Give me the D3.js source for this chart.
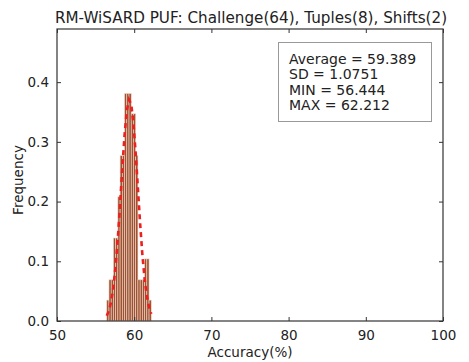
<!DOCTYPE html>
<html>
<head>
<meta charset="utf-8">
<script src="https://cdn.jsdelivr.net/npm/d3@7"></script>
<style>
  html, body { margin: 0; padding: 0; background: #fff; }
  text { font-family: "DejaVu Sans", sans-serif; fill: #222; }
</style>
</head>
<body>
<svg id="chart" width="469" height="362"></svg>
<script>
// ---- data ----
const title = "RM-WiSARD PUF: Challenge(64), Tuples(8), Shifts(2)";
const xLabel = "Accuracy(%)";
const yLabel = "Frequency";
const binEdges = [56.444, 56.732, 57.021, 57.309, 57.598, 57.886, 58.174, 58.463, 58.751, 59.040,
                  59.328, 59.616, 59.905, 60.193, 60.482, 60.770, 61.058, 61.347, 61.635, 61.924, 62.212];
const binFreq = [0.035, 0.069, 0.069, 0.139, 0.139, 0.208, 0.277, 0.277, 0.381, 0.381,
                 0.381, 0.347, 0.347, 0.277, 0.069, 0.069, 0.069, 0.104, 0.104, 0.035];
const fitCurve = [0.0087, 0.0175, 0.0328, 0.0571, 0.0927, 0.1397, 0.1959, 0.2561, 0.3112, 0.3520,
                  0.3705, 0.3629, 0.3307, 0.2806, 0.2214, 0.1626, 0.1112, 0.0707, 0.0419, 0.0230, 0.0118];
const xTicks = [50, 60, 70, 80, 90, 100];
const yTicks = [0.0, 0.1, 0.2, 0.3, 0.4];
const statsLines = ["Average = 59.389", "SD = 1.0751", "MIN = 56.444", "MAX = 62.212"];

// ---- layout ----
const svg = d3.select("#chart");
const L = 57, R = 443, T = 29, B = 321;
const x = d3.scaleLinear().domain([50, 100]).range([L, R]);
const y = d3.scaleLinear().domain([0, 0.489]).range([B, T]);

// bars
const bars = binFreq.map((f, i) => ({x0: binEdges[i], x1: binEdges[i + 1], f}));
svg.append("g").selectAll("rect").data(bars).join("rect")
  .attr("x", d => x(d.x0))
  .attr("y", d => y(d.f))
  .attr("width", d => x(d.x1) - x(d.x0))
  .attr("height", d => y(0) - y(d.f))
  .attr("fill", "#9c5232")
  .attr("stroke", "#f2d9c8")
  .attr("stroke-width", 0.6);

// fitted curve
const line = d3.line().x((d, i) => x(binEdges[i])).y(d => y(d));
svg.append("path").datum(fitCurve)
  .attr("d", line)
  .attr("fill", "none")
  .attr("stroke", "#ee1f1f")
  .attr("stroke-width", 2.6)
  .attr("stroke-dasharray", "5,4");

// frame
svg.append("rect").attr("x", L).attr("y", T).attr("width", R - L).attr("height", B - T)
  .attr("fill", "none").attr("stroke", "#333").attr("stroke-width", 1.2);

// axes with inward ticks
const fmtY = d3.format(".1f");
const axB = d3.axisBottom(x).tickValues(xTicks).tickSize(-4).tickPadding(9).tickFormat(d3.format("d"));
const axT = d3.axisTop(x).tickValues(xTicks).tickSize(-4).tickFormat("");
const axL = d3.axisLeft(y).tickValues(yTicks).tickSize(-4).tickPadding(8).tickFormat(fmtY);
const axR = d3.axisRight(y).tickValues(yTicks).tickSize(-4).tickFormat("");
function styleAxis(g) {
  g.select(".domain").remove();
  g.selectAll("line").attr("stroke", "#333");
  g.selectAll("text").attr("font-size", "13.5px").attr("fill", "#222").attr("font-family", "DejaVu Sans, sans-serif");
}
svg.append("g").attr("transform", `translate(0,${B})`).call(axB).call(styleAxis);
svg.append("g").attr("transform", `translate(0,${T})`).call(axT).call(styleAxis);
svg.append("g").attr("transform", `translate(${L},0)`).call(axL).call(styleAxis);
svg.append("g").attr("transform", `translate(${R},0)`).call(axR).call(styleAxis);

// labels
svg.append("text").attr("x", 251).attr("y", 23).attr("text-anchor", "middle")
  .attr("font-size", "15.2px").text(title);
svg.append("text").attr("x", 250).attr("y", 357).attr("text-anchor", "middle")
  .attr("font-size", "13.5px").text(xLabel);
svg.append("text").attr("transform", "translate(23,180) rotate(-90)").attr("text-anchor", "middle")
  .attr("font-size", "13.5px").text(yLabel);

// stats box
svg.append("rect").attr("x", 278.5).attr("y", 42.5).attr("width", 153).attr("height", 79)
  .attr("fill", "#fff").attr("stroke", "#999").attr("stroke-width", 1);
svg.append("g").selectAll("text").data(statsLines).join("text")
  .attr("x", 289).attr("y", (d, i) => 63.5 + i * 15.5)
  .attr("font-size", "14px").text(d => d);
</script>
</body>
</html>
